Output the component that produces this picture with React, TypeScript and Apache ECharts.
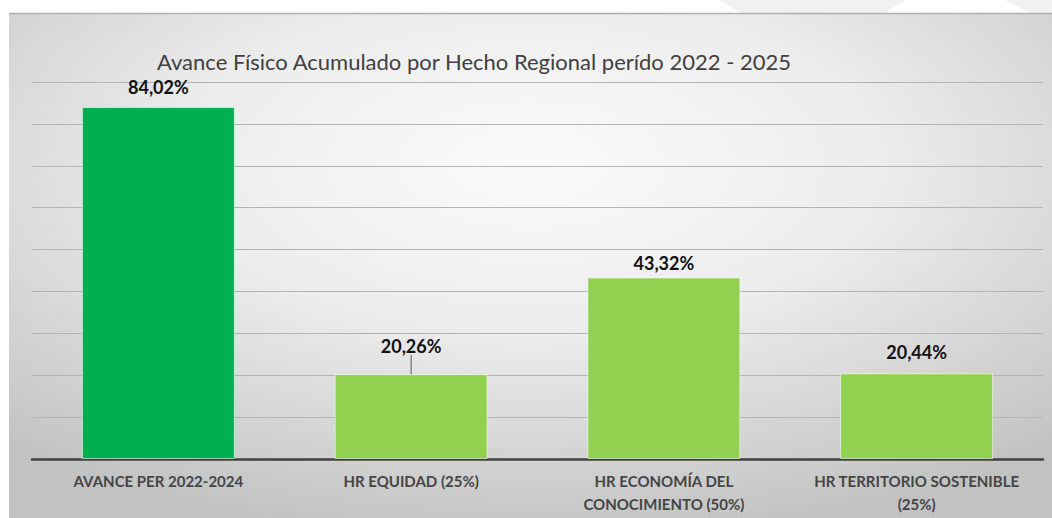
import React, { useEffect, useRef } from "react";
import * as echarts from "echarts";

const titleText = "Avance Físico Acumulado por Hecho Regional perído 2022 - 2025";
const categories = [
  "AVANCE PER 2022-2024",
  "HR EQUIDAD (25%)",
  "HR ECONOMÍA DEL\nCONOCIMIENTO (50%)",
  "HR TERRITORIO SOSTENIBLE\n(25%)",
];
const values = [84.02, 20.26, 43.32, 20.44];
const barColors = ["#00b050", "#92d050", "#92d050", "#92d050"];
const labelShift = [-5, -13, 0, -6];

const FONT = "Lato, 'Open Sans', sans-serif";

export default function App() {
  const ref = useRef<HTMLDivElement>(null);
  useEffect(() => {
    if (!ref.current) return;
    const chart = echarts.init(ref.current, undefined, { renderer: "svg" });
    chart.setOption({
      animation: false,
      backgroundColor: "#ffffff",
      graphic: [
        {
          type: "polygon",
          silent: true,
          z: -10,
          shape: { points: [[720, 0], [905, 0], [885, 13], [740, 13]] },
          style: { fill: "#f1f1f1" },
        },
        {
          type: "polygon",
          silent: true,
          z: -10,
          shape: { points: [[1005, 0], [1052, 0], [1052, 13], [1030, 13]] },
          style: { fill: "#f1f1f1" },
        },
        {
          type: "rect",
          silent: true,
          z: -9,
          shape: { x: 9, y: 13, width: 1043, height: 505 },
          style: {
            fill: new echarts.graphic.RadialGradient(0.5, 0.3, 0.75, [
              { offset: 0, color: "#fbfbfb" },
              { offset: 0.45, color: "#ececec" },
              { offset: 1, color: "#c2c2c2" },
            ]),
          },
        },
        {
          type: "line",
          silent: true,
          z: -8,
          shape: { x1: 9, y1: 13.5, x2: 1052, y2: 13.5 },
          style: { stroke: "#b0b0b0", lineWidth: 1.5 },
        },
      ],
      title: {
        text: titleText,
        left: 152,
        top: 45,
        textStyle: {
          fontFamily: FONT,
          fontSize: 22,
          fontWeight: "normal",
          color: "#404040",
        },
      },
      grid: { left: 32, right: 9, top: 82, bottom: 59, containLabel: false },
      xAxis: {
        type: "category",
        data: categories,
        axisLine: { lineStyle: { color: "#404040", width: 2.5 } },
        axisTick: { show: false },
        axisLabel: {
          interval: 0,
          margin: 10,
          fontFamily: FONT,
          fontSize: 15,
          fontWeight: "bold",
          color: "#454545",
          lineHeight: 23,
        },
      },
      yAxis: {
        type: "value",
        min: 0,
        max: 90,
        interval: 10,
        axisLabel: { show: false },
        axisLine: { show: false },
        axisTick: { show: false },
        splitLine: { lineStyle: { color: "#b4b4b4", width: 1 } },
      },
      series: [
        {
          type: "bar",
          barWidth: "60.5%",
          data: values.map((v, i) => ({
            value: v,
            itemStyle: { color: barColors[i] },
            labelLine: { show: i === 1 },
          })),
          itemStyle: { borderColor: "rgba(255,255,255,0.55)", borderWidth: 1 },
          label: {
            show: true,
            position: "top",
            distance: 6,
            fontFamily: FONT,
            fontSize: 18,
            fontWeight: "bold",
            color: "#111111",
            formatter: (p: any) => p.value.toFixed(2).replace(".", ",") + "%",
          },
          labelLine: { show: false, lineStyle: { color: "#595959", width: 1 } },
          labelLayout: (p: any) => ({ dy: labelShift[p.dataIndex] }),
        },
      ],
    });
    return () => chart.dispose();
  }, []);
  return (
    <div
      ref={ref}
      style={{ position: "fixed", left: 0, top: 0, width: 1052, height: 518 }}
    />
  );
}
